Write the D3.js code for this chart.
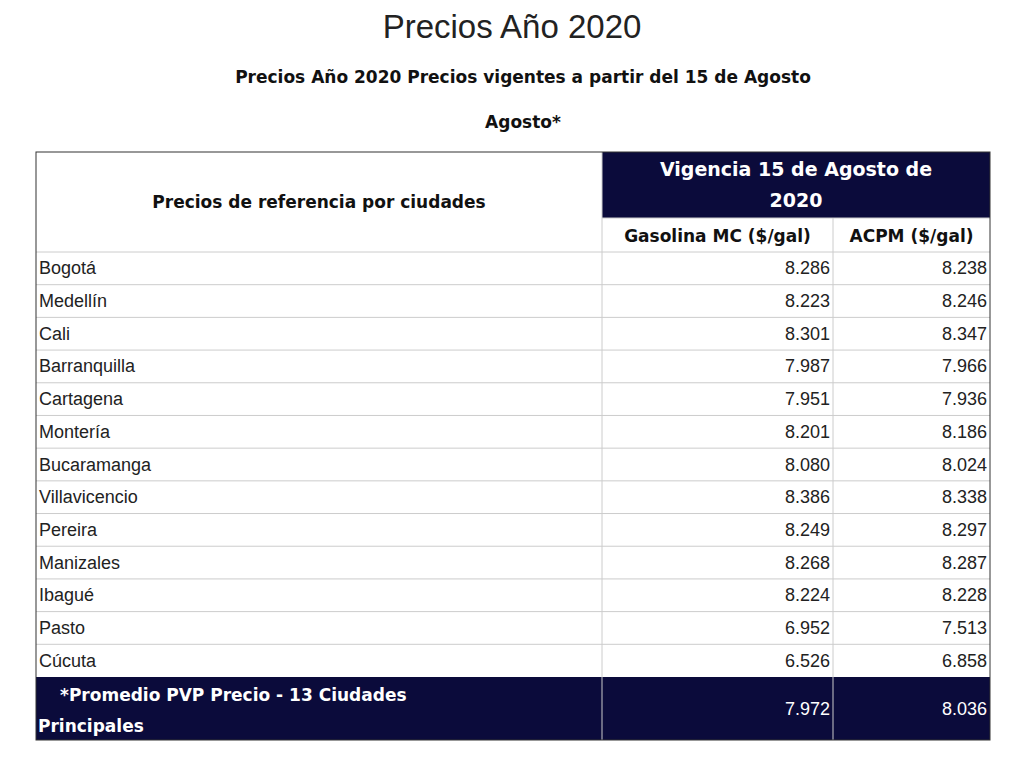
<!DOCTYPE html><html><head><meta charset="utf-8"><script src="https://cdn.jsdelivr.net/npm/d3@7"></script>
<style>body{margin:0;background:#fff}</style></head><body><script>
const cities=["Bogotá","Medellín","Cali","Barranquilla","Cartagena","Montería","Bucaramanga","Villavicencio","Pereira","Manizales","Ibagué","Pasto","Cúcuta"];
const gasolina=["8.286","8.223","8.301","7.987","7.951","8.201","8.080","8.386","8.249","8.268","8.224","6.952","6.526"];
const acpm=["8.238","8.246","8.347","7.966","7.936","8.186","8.024","8.338","8.297","8.287","8.228","7.513","6.858"];
const avgLabel=["*Promedio PVP Precio - 13 Ciudades","Principales"];
const avgVals=["7.972","8.036"];
const navy="#0b0b3b", bold="DejaVu Sans", reg="Liberation Sans, Arial";
const svg=d3.select("body").append("svg").attr("width",1024).attr("height",760);
svg.append("text").attr("x",512).attr("y",38).attr("text-anchor","middle").attr("font-family",reg).attr("font-size",33).attr("fill","#222").text("Precios Año 2020");
svg.append("text").attr("x",523).attr("y",83).attr("text-anchor","middle").attr("font-family",bold).attr("font-weight","bold").attr("font-size",17).attr("fill","#111").text("Precios Año 2020 Precios vigentes a partir del 15 de Agosto");
svg.append("text").attr("x",523).attr("y",128).attr("text-anchor","middle").attr("font-family",bold).attr("font-weight","bold").attr("font-size",17).attr("fill","#111").text("Agosto*");
const L=36,C1=602,C2=833,R=990,T=152,H1=218,H2=252;
const y=d3.scaleBand().domain(cities).range([H2,677]);
// header
svg.append("rect").attr("x",C1).attr("y",T).attr("width",R-C1).attr("height",H1-T).attr("fill",navy);
svg.append("text").attr("x",(C1+R)/2).attr("y",176).attr("text-anchor","middle").attr("font-family",bold).attr("font-weight","bold").attr("font-size",19).attr("fill","#fff").text("Vigencia 15 de Agosto de");
svg.append("text").attr("x",(C1+R)/2).attr("y",207).attr("text-anchor","middle").attr("font-family",bold).attr("font-weight","bold").attr("font-size",19).attr("fill","#fff").text("2020");
svg.append("text").attr("x",(L+C1)/2).attr("y",208).attr("text-anchor","middle").attr("font-family",bold).attr("font-weight","bold").attr("font-size",17).attr("fill","#111").text("Precios de referencia por ciudades");
svg.append("text").attr("x",(C1+C2)/2).attr("y",242).attr("text-anchor","middle").attr("font-family",bold).attr("font-weight","bold").attr("font-size",17).attr("fill","#111").text("Gasolina MC ($/gal)");
svg.append("text").attr("x",(C2+R)/2).attr("y",242).attr("text-anchor","middle").attr("font-family",bold).attr("font-weight","bold").attr("font-size",17).attr("fill","#111").text("ACPM ($/gal)");
const rows=svg.selectAll("g.r").data(cities).join("g");
rows.append("line").attr("x1",L).attr("x2",R).attr("y1",d=>y(d)).attr("y2",d=>y(d)).attr("stroke","#ccc");
rows.append("text").attr("x",L+3).attr("y",d=>y(d)+y.bandwidth()/2+6).attr("font-family",reg).attr("font-size",18).attr("fill","#222").text(d=>d);
rows.append("text").attr("x",C2-3).attr("y",d=>y(d)+y.bandwidth()/2+6).attr("text-anchor","end").attr("font-family",reg).attr("font-size",18).attr("fill","#222").text((d,i)=>gasolina[i]);
rows.append("text").attr("x",R-3).attr("y",d=>y(d)+y.bandwidth()/2+6).attr("text-anchor","end").attr("font-family",reg).attr("font-size",18).attr("fill","#222").text((d,i)=>acpm[i]);
// footer
svg.append("rect").attr("x",L).attr("y",677).attr("width",R-L).attr("height",63).attr("fill",navy);
svg.append("text").attr("x",60).attr("y",701).attr("font-family",bold).attr("font-weight","bold").attr("font-size",17).attr("fill","#fff").text(avgLabel[0]);
svg.append("text").attr("x",38).attr("y",732).attr("font-family",bold).attr("font-weight","bold").attr("font-size",17).attr("fill","#fff").text(avgLabel[1]);
svg.append("text").attr("x",C2-3).attr("y",715).attr("text-anchor","end").attr("font-family",reg).attr("font-size",18).attr("fill","#fff").text(avgVals[0]);
svg.append("text").attr("x",R-3).attr("y",715).attr("text-anchor","end").attr("font-family",reg).attr("font-size",18).attr("fill","#fff").text(avgVals[1]);
// grid
svg.append("line").attr("x1",C1).attr("x2",C1).attr("y1",T).attr("y2",740).attr("stroke","#ccc");
svg.append("line").attr("x1",C2).attr("x2",C2).attr("y1",H1).attr("y2",740).attr("stroke","#ccc");
svg.append("line").attr("x1",C1).attr("x2",R).attr("y1",H1).attr("y2",H1).attr("stroke","#ccc");
svg.append("rect").attr("x",L).attr("y",T).attr("width",R-L).attr("height",740-T).attr("fill","none").attr("stroke","#333");
</script></body></html>
